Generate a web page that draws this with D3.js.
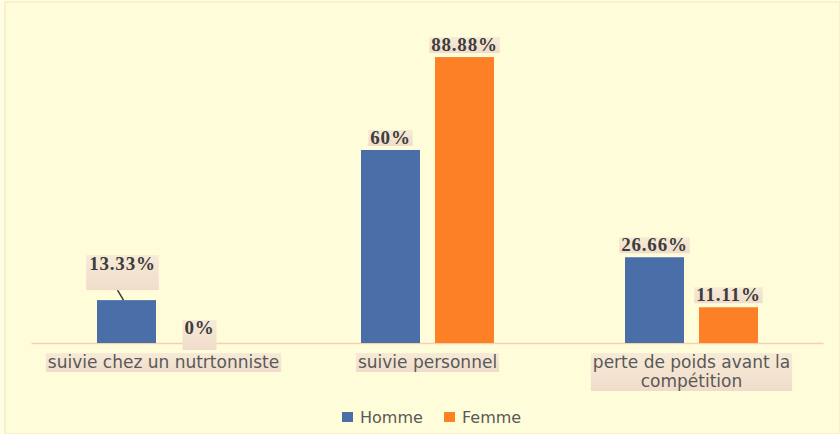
<!DOCTYPE html>
<html>
<head>
<meta charset="utf-8">
<title>Suivi nutritionnel</title>
<script src="https://cdn.jsdelivr.net/npm/d3@7"></script>
<style>
  body { margin: 0; background: #fffde0; }
  svg { display: block; }
</style>
</head>
<body>
<script>
var categories = ["suivie chez un nutrtonniste", "suivie personnel", "perte de poids avant la compétition"];
var series = ["Homme", "Femme"];
var homme = [13.33, 60, 26.66];
var femme = [0, 88.88, 11.11];
var valueLabels = [["13.33%", "60%", "26.66%"], ["0%", "88.88%", "11.11%"]];
var colors = ["#4a6ea8", "#fd7f26"];

var width = 840, height = 434;
var baseY = 343;

var svg = d3.select("body").append("svg").attr("width", width).attr("height", height);

var defs = svg.append("defs");
var grad = defs.append("linearGradient").attr("id", "lblbg").attr("x1", 0).attr("y1", 0).attr("x2", 0).attr("y2", 1);
grad.append("stop").attr("offset", "0%").attr("stop-color", "#f6ebd6");
grad.append("stop").attr("offset", "100%").attr("stop-color", "#f1dccb");

// background + frame
svg.append("rect").attr("x", 0).attr("y", 0).attr("width", width).attr("height", height).attr("fill", "#fffde4");
svg.append("rect").attr("x", 5).attr("y", 2).attr("width", width - 5).attr("height", height - 2)
    .attr("fill", "#fffcd9").attr("stroke", "#efe6c4").attr("stroke-width", 1);

var x0 = d3.scaleBand().domain(categories).range([31.5, 823.5]);
var x1 = d3.scaleBand().domain(series).range([65.5, 198.5]).paddingInner(15 / 74);
var y = d3.scaleLinear().domain([0, 100]).range([baseY, 21.3]);

var rows = categories.map(function(c, i) {
    return { cat: c, values: [homme[i], femme[i]] };
});

// baseline
svg.append("line").attr("x1", x0.range()[0]).attr("x2", x0.range()[1])
    .attr("y1", baseY + 0.5).attr("y2", baseY + 0.5)
    .attr("stroke", "#f5cfb0").attr("stroke-width", 1.5);

var groups = svg.selectAll("g.grp").data(rows).enter().append("g")
    .attr("class", "grp")
    .attr("transform", function(d) { return "translate(" + x0(d.cat) + ",0)"; });

groups.selectAll("rect").data(function(d) { return d.values; }).enter().append("rect")
    .attr("x", function(d, j) { return x1(series[j]); })
    .attr("y", function(d) { return y(d); })
    .attr("width", x1.bandwidth())
    .attr("height", function(d) { return baseY - y(d); })
    .attr("fill", function(d, j) { return colors[j]; });

// data labels
function addLabel(g, text, cx, boxTop, boxH, textY, padX) {
    var t = g.append("text").attr("x", cx).attr("y", textY)
        .attr("text-anchor", "middle")
        .attr("font-family", "Liberation Serif, serif")
        .attr("font-weight", "bold")
        .attr("font-size", 19)
        .attr("letter-spacing", 0.8)
        .attr("fill", "#3d3d3d")
        .text(text);
    var bb = t.node().getBBox();
    g.insert("rect", "text").attr("x", bb.x - padX).attr("y", boxTop)
        .attr("width", bb.width + padX * 2).attr("height", boxH)
        .attr("fill", "url(#lblbg)");
}

rows.forEach(function(r, i) {
    var g = groups.filter(function(d, k) { return k === i; });
    r.values.forEach(function(v, j) {
        var cx = x1(series[j]) + x1.bandwidth() / 2;
        var top = y(v);
        var lg = g.append("g");
        if (i === 0 && j === 0) {
            // label dragged up with a leader line
            lg.append("line").attr("x1", cx - 9).attr("y1", top - 10).attr("x2", cx - 3).attr("y2", top)
                .attr("stroke", "#3d3d3d").attr("stroke-width", 1.5);
            addLabel(lg, valueLabels[j][i], cx - 4, top - 45, 35, top - 30, 3);
        } else if (v === 0) {
            addLabel(lg, valueLabels[j][i], cx - 1, top - 23, 30, top - 9, 2);
        } else {
            addLabel(lg, valueLabels[j][i], cx, top - 20, 16, top - 6, 2);
        }
    });
});

// category labels
groups.each(function(d) {
    var g = d3.select(this);
    var cx = x0.bandwidth() / 2;
    var lines = d.cat === categories[2] ? ["perte de poids avant la", "compétition"] : [d.cat];
    var lg = g.append("g");
    var t = lg.append("text").attr("text-anchor", "middle")
        .attr("font-family", "DejaVu Sans, sans-serif")
        .attr("font-size", 17)
        .attr("fill", "#595959");
    lines.forEach(function(l, k) {
        t.append("tspan").attr("x", cx).attr("y", 368 + k * 19).text(l);
    });
    var bb = t.node().getBBox();
    lg.insert("rect", "text").attr("x", bb.x - 2).attr("y", bb.y + 1)
        .attr("width", bb.width + 4).attr("height", bb.height - 1)
        .attr("fill", "url(#lblbg)");
});

// legend
var legend = svg.append("g").attr("transform", "translate(342,412)");
var lx = [0, 102];
series.forEach(function(s, j) {
    var li = legend.append("g").attr("transform", "translate(" + lx[j] + ",0)");
    li.append("rect").attr("x", 0).attr("y", 0).attr("width", 11).attr("height", 10).attr("fill", colors[j]);
    li.append("text").attr("x", 18).attr("y", 11)
        .attr("font-family", "DejaVu Sans, sans-serif").attr("font-size", 16)
        .attr("fill", "#595959").text(s);
});
</script>
</body>
</html>
